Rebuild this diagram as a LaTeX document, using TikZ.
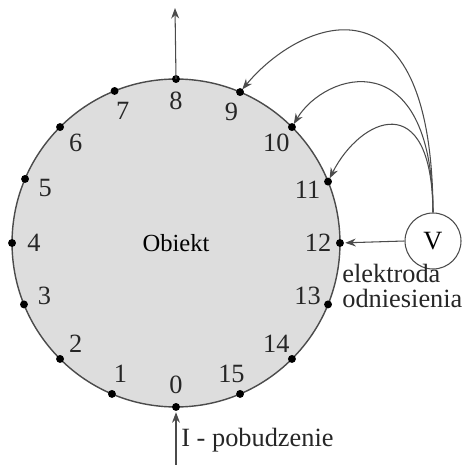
\documentclass[tikz,border=0pt]{standalone}
\usepackage{fontspec}
\setmainfont{Liberation Serif}
\newfontfamily\labelfont{Liberation Serif}
\usetikzlibrary{arrows.meta,calc}
\definecolor{objfill}{RGB}{221,221,221}
\definecolor{wire}{RGB}{75,75,75}

\begin{document}
\begin{tikzpicture}[x=0.02cm, y=-0.02cm, >={Stealth[length=6pt,width=4.5pt]},
  font=\labelfont\fontsize{14}{12.5}\selectfont,
  wire/.style={draw=wire, line width=0.6pt},
  pin/.style={circle, fill=black, inner sep=0pt, minimum size=4.5pt},
  num/.style={text=black!85, inner sep=0pt, font=\labelfont\fontsize{15}{12.5}\selectfont}]
  \useasboundingbox (0,0) rectangle (463,465);

  %% Object (body with electrodes)
  \node[circle, draw=wire, line width=0.8pt, fill=objfill, inner sep=0pt,
        outer sep=0pt, minimum size=6.56cm] (obj) at (176,243) {Obiekt};

  %% Electrodes 0..15, counted from the bottom, clockwise
  \foreach \k in {0,...,15}{
    \coordinate (e\k) at (obj.{270-22.5*\k});
    \node[pin] at (e\k) {};
    \node[num] (n\k) at ($(obj.center)!0.866!(e\k)$) {\k};
  }

  %% Voltmeter
  \node[circle, draw=wire, line width=0.6pt, inner sep=0pt, minimum size=1.12cm,
        font=\labelfont\fontsize{15}{15}\selectfont] (V) at (433,241) {V};
  \draw[wire, ->, shorten >=3pt] (V.west) -- (e12);
  \draw[wire, ->, shorten >=2pt] (V.north)
    .. controls (432,-35) and (300,20) .. (e9);
  \draw[wire, ->, shorten >=2pt] (V.north)
    .. controls (432,40) and (325,72) .. (e10);
  \draw[wire, ->, shorten >=2pt] (V.north)
    .. controls (432,85) and (360,118) .. (e11);
  \node[num, align=left, anchor=north west,
        font=\labelfont\fontsize{15}{14}\selectfont] (ref) at (342,264)
    {elektroda\\odniesienia};

  %% Excitation in, out at the top
  \coordinate (in) at (176,465);
  \coordinate (out) at (175,8);
  \draw[wire, ->, shorten >=3pt] (in) -- (e0);
  \draw[wire, ->] (e8) -- (out);
  \node[num, anchor=west] (exc) at (181,440) {I - pobudzenie};

\end{tikzpicture}
\end{document}
